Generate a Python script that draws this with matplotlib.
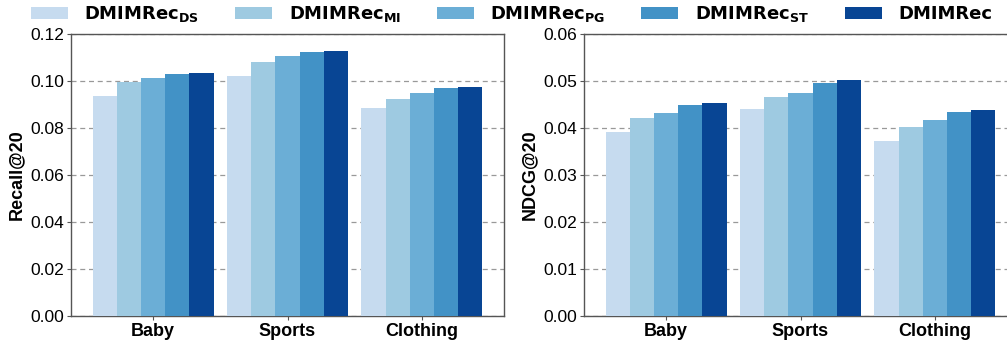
import numpy as np
import matplotlib
matplotlib.use("Agg")
import matplotlib.pyplot as plt

plt.rcParams['font.family'] = ['Liberation Sans', 'DejaVu Sans']
plt.rcParams['mathtext.fontset'] = 'dejavusans'

datasets = ["Baby", "Sports", "Clothing"]
variants = [r"DMIMRec$_{\mathbf{DS}}$", r"DMIMRec$_{\mathbf{MI}}$",
            r"DMIMRec$_{\mathbf{PG}}$", r"DMIMRec$_{\mathbf{ST}}$", "DMIMRec"]
colors = ["#c6dbef", "#9ecae1", "#6baed6", "#4292c6", "#084594"]

# rows = variants, cols = datasets
recall = [
    [0.0935, 0.1023, 0.0884],
    [0.0995, 0.1082, 0.0922],
    [0.1011, 0.1106, 0.0947],
    [0.1030, 0.1122, 0.0972],
    [0.1034, 0.1128, 0.0974],
]
ndcg = [
    [0.0392, 0.0441, 0.0372],
    [0.0422, 0.0467, 0.0402],
    [0.0432, 0.0474, 0.0416],
    [0.0450, 0.0496, 0.0433],
    [0.0454, 0.0503, 0.0438],
]

fig = plt.figure(figsize=(10.07, 3.46), dpi=100)
W, H = 1007, 346
ax1 = fig.add_axes([71 / W, 30 / H, 433 / W, 282 / H])
ax2 = fig.add_axes([584 / W, 30 / H, 433 / W, 282 / H])

x = np.arange(len(datasets))
bw = 0.18


def draw(ax, data, ylabel, ymax, step):
    for i, vals in enumerate(data):
        ax.bar(x + (i - 2) * bw, vals, bw, color=colors[i], label=variants[i],
               zorder=3)
    ax.set_xlim(-0.61, 2.61)
    ax.set_ylim(0, ymax)
    yt = np.arange(0, ymax + step / 2, step)
    ax.set_yticks(yt)
    ax.set_yticklabels([f"{v:.2f}" for v in yt])
    ax.set_xticks(x)
    ax.set_xticklabels(datasets, fontsize=13, fontweight='bold')
    ax.set_ylabel(ylabel, fontsize=13, fontweight='bold', labelpad=4)
    ax.tick_params(axis='y', labelsize=12.5, length=3, color='#555555', pad=2)
    ax.tick_params(axis='x', length=3, color='#555555', pad=2)
    ax.yaxis.grid(True, linestyle=(0, (4, 3)), color='#999999', lw=0.9, zorder=0)
    ax.set_axisbelow(True)
    for s in ax.spines.values():
        s.set_color('#555555')
        s.set_linewidth(1.0)


draw(ax1, recall, "Recall@20", 0.12, 0.02)
draw(ax2, ndcg, "NDCG@20", 0.06, 0.01)

handles, labels = ax1.get_legend_handles_labels()
fig.legend(handles, labels, loc='upper center', bbox_to_anchor=(0.508, 1.035),
           ncol=5, frameon=False,
           prop={'family': 'DejaVu Sans', 'size': 13, 'weight': 'bold'},
           handlelength=2.05, handleheight=0.7, columnspacing=2.0,
           handletextpad=0.9)

fig.savefig("out.png", dpi=100)
